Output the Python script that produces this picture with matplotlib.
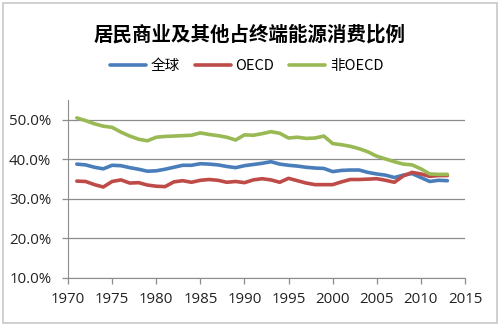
import numpy as np
import matplotlib.pyplot as plt
from matplotlib.patches import Rectangle

plt.rcParams['font.family'] = ['Open Sans', 'Noto Sans CJK SC', 'DejaVu Sans']

# data, share of final energy use, %
years = list(range(1971, 2014))
world = [38.8, 38.6, 38.0, 37.6, 38.5, 38.4, 37.9, 37.5, 37.0, 37.1,
         37.5, 38.0, 38.5, 38.5, 38.9, 38.8, 38.6, 38.2, 37.9, 38.4,
         38.7, 39.0, 39.4, 38.8, 38.5, 38.3, 38.0, 37.8, 37.7, 36.9,
         37.2, 37.3, 37.3, 36.7, 36.3, 36.0, 35.4, 36.0, 36.4, 35.4,
         34.4, 34.7, 34.6]
oecd = [34.5, 34.4, 33.6, 33.0, 34.4, 34.8, 34.0, 34.1, 33.5, 33.2,
        33.1, 34.3, 34.6, 34.2, 34.7, 34.9, 34.7, 34.2, 34.4, 34.1,
        34.8, 35.1, 34.8, 34.2, 35.2, 34.6, 34.0, 33.6, 33.6, 33.6,
        34.3, 34.9, 34.9, 35.0, 35.1, 34.7, 34.2, 35.8, 36.7, 36.3,
        35.7, 35.9, 35.9]
non_oecd = [50.5, 49.8, 49.0, 48.4, 48.1, 46.9, 45.9, 45.1, 44.7, 45.6,
            45.8, 45.9, 46.0, 46.1, 46.7, 46.3, 46.0, 45.6, 44.9, 46.2,
            46.1, 46.5, 47.0, 46.6, 45.4, 45.6, 45.3, 45.4, 45.9, 44.0,
            43.7, 43.3, 42.7, 41.9, 40.8, 40.1, 39.4, 38.8, 38.6, 37.6,
            36.3, 36.2, 36.2]

labels = ['全球', 'OECD', '非OECD']
colors = ['#4a7ebb', '#be4b48', '#98b954']
xticks = list(range(1970, 2016, 5))
yticks = [10, 20, 30, 40, 50]

fig = plt.figure(figsize=(5, 3.25), dpi=100)
fig.patches.append(Rectangle((0.006, 0.006), 0.988, 0.985, transform=fig.transFigure,
                             fill=False, edgecolor='#c8c8c8', linewidth=1.2))
ax = fig.add_axes([0.136, 0.145, 0.794, 0.547])

for vals, lab, c in zip([world, oecd, non_oecd], labels, colors):
    ax.plot(years, vals, color=c, linewidth=2.6, label=lab,
            solid_joinstyle='round', solid_capstyle='round')

ax.set_xlim(1970, 2015)
ax.set_ylim(10, 55)
ax.set_xticks(xticks)
ax.set_yticks(yticks)
ax.set_yticklabels(['%.1f%%' % v for v in yticks])
ax.grid(axis='y', color='#8c8c8c', linewidth=0.9)
ax.set_axisbelow(True)
for s in ['top', 'right']:
    ax.spines[s].set_visible(False)
for s in ['left', 'bottom']:
    ax.spines[s].set_color('#8c8c8c')
ax.tick_params(axis='both', colors='#8c8c8c', labelcolor='#222222', labelsize=10.8,
               length=4, width=0.9)
ax.tick_params(axis='x', pad=6)
ax.tick_params(axis='y', pad=8)

fig.text(0.5, 0.895, '居民商业及其他占终端能源消费比例', ha='center', va='center',
         fontsize=14, fontweight='bold', family=['Noto Sans CJK SC'])
ax.legend(loc='center', bbox_to_anchor=(0.45, 1.19), ncol=3, frameon=False,
          handlelength=2.5, handletextpad=0.3, columnspacing=1.0,
          prop={'family': ['Noto Sans CJK SC', 'Open Sans'], 'size': 10.5})

fig.savefig('out.png', dpi=100)
